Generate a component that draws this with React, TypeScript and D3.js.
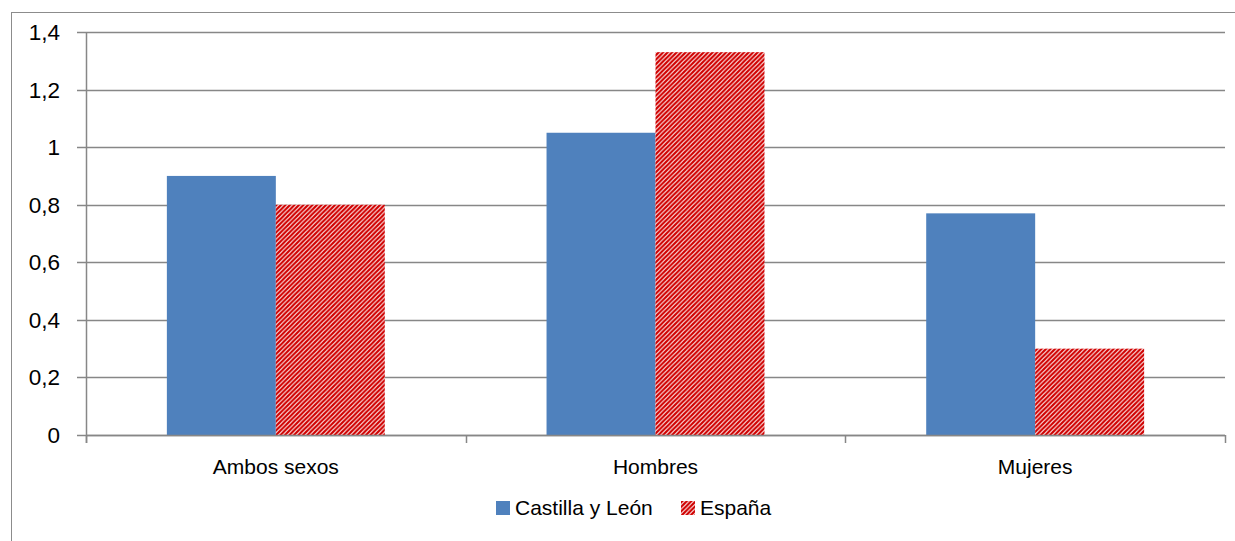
import React, { useEffect, useRef } from 'react';
import * as d3 from 'd3';

// data
const categories = ['Ambos sexos', 'Hombres', 'Mujeres'];
const castillaYLeon = [0.9, 1.05, 0.77];
const espana = [0.8, 1.33, 0.3];
const yTicks = [0, 0.2, 0.4, 0.6, 0.8, 1, 1.2, 1.4];
const seriesNames = ['Castilla y León', 'España'];

const W = 1235;
const H = 541;

const App: React.FC = () => {
  const svgRef = useRef<SVGSVGElement>(null);

  useEffect(() => {
    if (!svgRef.current) return;
    const svg = d3.select(svgRef.current);
    svg.selectAll('*').remove();

    const font = '"Liberation Sans", Arial, sans-serif';
    const grid = '#878787';
    const blue = '#4f81bd';
    const red = '#d00000';

    // hatch pattern for España
    const defs = svg.append('defs');
    const pat = defs.append('pattern')
      .attr('id', 'hatch')
      .attr('patternUnits', 'userSpaceOnUse')
      .attr('width', 4.5)
      .attr('height', 4.5);
    pat.append('rect').attr('width', 4.5).attr('height', 4.5).attr('fill', '#fff');
    pat.append('path')
      .attr('d', 'M-1,1 L1,-1 M0,4.5 L4.5,0 M3.5,5.5 L5.5,3.5')
      .attr('stroke', red)
      .attr('stroke-width', 2.2);

    // chart frame (runs past the right and bottom edges)
    svg.append('rect')
      .attr('x', 11.5).attr('y', 12.5)
      .attr('width', W + 20).attr('height', H + 20)
      .attr('fill', '#fff')
      .attr('stroke', '#8c8c8c')
      .attr('stroke-width', 1);

    const left = 86, right = 1225, top = 32, bottom = 435;

    const x = d3.scaleBand<string>().domain(categories).range([left, right]).paddingInner(0).paddingOuter(0);
    const y = d3.scaleLinear().domain([0, 1.4]).range([bottom, top]);
    const barW = x.bandwidth() * 0.287;

    // gridlines
    svg.append('g').selectAll('line')
      .data(yTicks)
      .enter().append('line')
      .attr('x1', left - 9).attr('x2', right)
      .attr('y1', d => Math.round(y(d)) + 0.5).attr('y2', d => Math.round(y(d)) + 0.5)
      .attr('stroke', grid)
      .attr('stroke-width', 1.5);

    // y tick labels
    svg.append('g').selectAll('text')
      .data(yTicks)
      .enter().append('text')
      .attr('x', 60)
      .attr('y', d => y(d) + 8)
      .attr('text-anchor', 'end')
      .attr('font-family', font)
      .attr('font-size', 22.5)
      .attr('fill', '#000')
      .text(d => d3.format('.1f')(d).replace(/\.0$/, '').replace('.', ','));

    // bars
    const groups = svg.append('g').selectAll('g')
      .data(categories)
      .enter().append('g');

    groups.append('rect')
      .attr('x', d => (x(d) as number) + x.bandwidth() / 2 - barW)
      .attr('y', (d, i) => y(castillaYLeon[i]))
      .attr('width', barW)
      .attr('height', (d, i) => y(0) - y(castillaYLeon[i]))
      .attr('fill', blue);

    groups.append('rect')
      .attr('x', d => (x(d) as number) + x.bandwidth() / 2)
      .attr('y', (d, i) => y(espana[i]))
      .attr('width', barW)
      .attr('height', (d, i) => y(0) - y(espana[i]))
      .attr('fill', 'url(#hatch)');

    // axes
    svg.append('line')
      .attr('x1', left + 0.5).attr('x2', left + 0.5)
      .attr('y1', top).attr('y2', bottom + 8)
      .attr('stroke', grid).attr('stroke-width', 1.5);
    svg.append('line')
      .attr('x1', left).attr('x2', right)
      .attr('y1', bottom + 0.5).attr('y2', bottom + 0.5)
      .attr('stroke', grid).attr('stroke-width', 1.5);

    const xTickPos = [...categories.map(c => x(c) as number), right];
    svg.append('g').selectAll('line')
      .data(xTickPos)
      .enter().append('line')
      .attr('x1', d => Math.round(d) + 0.5).attr('x2', d => Math.round(d) + 0.5)
      .attr('y1', bottom).attr('y2', bottom + 8)
      .attr('stroke', grid).attr('stroke-width', 1.5);

    // category labels
    svg.append('g').selectAll('text')
      .data(categories)
      .enter().append('text')
      .attr('x', d => (x(d) as number) + x.bandwidth() / 2)
      .attr('y', 474)
      .attr('text-anchor', 'middle')
      .attr('font-family', font)
      .attr('font-size', 21)
      .attr('fill', '#000')
      .text(d => d);

    // legend
    const legend = svg.append('g');
    const legendItems = [
      { name: seriesNames[0], fill: blue, x: 496 },
      { name: seriesNames[1], fill: 'url(#hatch)', x: 681 },
    ];
    legendItems.forEach(item => {
      legend.append('rect')
        .attr('x', item.x).attr('y', 501)
        .attr('width', 14).attr('height', 14)
        .attr('fill', item.fill);
      legend.append('text')
        .attr('x', item.x + 19)
        .attr('y', 515)
        .attr('font-family', font)
        .attr('font-size', 21)
        .attr('fill', '#000')
        .text(item.name);
    });
  }, []);

  return (
    <div style={{ position: 'absolute', left: 0, top: 0, width: W, height: H, background: '#fff' }}>
      <svg ref={svgRef} width={W} height={H} style={{ display: 'block' }} />
    </div>
  );
};

export default App;
